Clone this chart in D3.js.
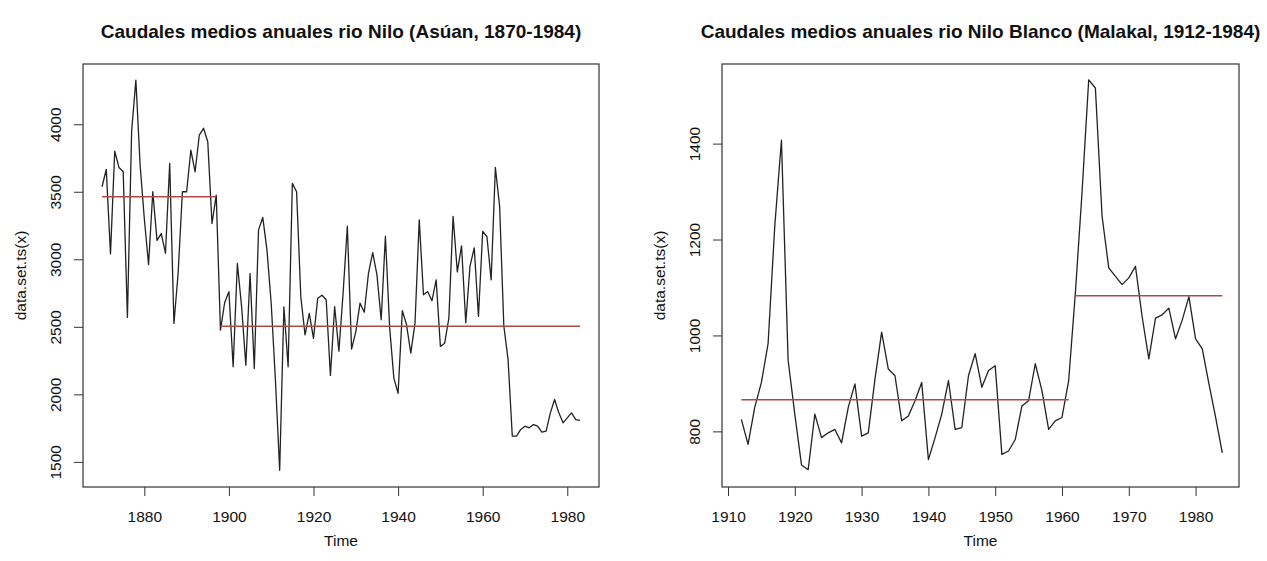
<!DOCTYPE html>
<html>
<head>
<meta charset="utf-8">
<script src="https://cdn.jsdelivr.net/npm/d3@7"></script>
<style>
    html, body { margin: 0; padding: 0; background: #fff; }
    svg text { font-family: "Liberation Sans", Arial, sans-serif; fill: #111; }
</style>
</head>
<body>
<svg id="chart" width="1267" height="561"></svg>
<script>
// Aswan annual mean flow, one value per year starting 1870
const nileStartYear = 1870;
const nileValues = [
    3537, 3665, 3040, 3800, 3680, 3650, 2570, 3950, 4327, 3700,
    3300, 2960, 3500, 3140, 3190, 3045, 3710, 2525, 2900, 3500,
    3500, 3808, 3648, 3920, 3970, 3870, 3265, 3475, 2475, 2680,
    2760, 2204, 2969, 2650, 2216, 2895, 2191, 3216, 3310, 3068,
    2673, 2105, 1438, 2648, 2204, 3562, 3500, 2722, 2440, 2599,
    2415, 2712, 2734, 2700, 2140, 2650, 2320, 2750, 3245, 2335,
    2465, 2675, 2608, 2898, 3050, 2885, 2552, 3171, 2496, 2120,
    2008, 2620, 2515, 2305, 2527, 3292, 2737, 2761, 2693, 2848,
    2355, 2378, 2564, 3318, 2907, 3100, 2530, 2949, 3085, 2577,
    3206, 3169, 2848, 3680, 3394, 2505, 2258, 1690, 1690, 1740,
    1764, 1752, 1776, 1764, 1720, 1727, 1863, 1962, 1863, 1789,
    1826, 1863, 1813, 1808
];
const nileSegStart = [1870, 1898];
const nileSegEnd = [1897, 1983];
const nileSegMean = [3463, 2505];
const nileXTicks = [1880, 1900, 1920, 1940, 1960, 1980];
const nileYTicks = [1500, 2000, 2500, 3000, 3500, 4000];

// White Nile at Malakal, one value per year starting 1912
const malakalStartYear = 1912;
const malakalValues = [
    825, 773, 850, 902, 983, 1228, 1407, 948, 836, 730,
    720, 836, 787, 797, 804, 776, 850, 899, 790, 797,
    909, 1007, 930, 916, 822, 832, 864, 902, 741, 787,
    836, 906, 804, 808, 916, 962, 892, 927, 937, 752,
    759, 783, 853, 864, 941, 885, 804, 822, 829, 906,
    1088, 1298, 1533, 1516, 1249, 1141, 1123, 1106, 1120, 1144,
    1039, 951, 1036, 1043, 1057, 993, 1032, 1081, 993, 972,
    899, 829, 755
];
const malakalSegStart = [1912, 1962];
const malakalSegEnd = [1961, 1984];
const malakalSegMean = [866, 1083];
const malakalXTicks = [1910, 1920, 1930, 1940, 1950, 1960, 1970, 1980];
const malakalYTicks = [800, 1000, 1200, 1400];

const svg = d3.select("#chart");

function drawPanel(p) {
    let g = svg.append("g");
    let top = 64, bottom = 487;

    let x = d3.scaleLinear().domain(p.xDomain).range([p.left, p.right]);
    let y = d3.scaleLinear().domain(p.yDomain).range([bottom, top]);

    let points = p.values.map((v, i) => ({year: p.startYear + i, value: v}));

    //Title
    g.append("text")
        .attr("x", (p.left + p.right) / 2)
        .attr("y", 38)
        .attr("text-anchor", "middle")
        .style("font-size", "19px")
        .style("font-weight", "bold")
        .text(p.title);

    //Bottom axis, R style: ticks only, the box gives the line
    let xAxis = g.append("g")
        .attr("transform", "translate(0," + bottom + ")")
        .call(d3.axisBottom(x).tickValues(p.xTicks).tickFormat(d3.format("d")).tickSize(9).tickPadding(15));
    xAxis.select(".domain").remove();
    xAxis.selectAll("line").attr("stroke", "#333");
    xAxis.selectAll("text").style("font-size", "15.5px").attr("fill", "#111");

    //Left axis with rotated labels
    let yAxis = g.append("g")
        .attr("transform", "translate(" + p.left + ",0)")
        .call(d3.axisLeft(y).tickValues(p.yTicks).tickFormat(d3.format("d")).tickSize(9));
    yAxis.select(".domain").remove();
    yAxis.selectAll("line").attr("stroke", "#333");
    yAxis.selectAll("text")
        .attr("x", null).attr("dy", null)
        .attr("text-anchor", "middle")
        .attr("transform", "translate(-22,0) rotate(-90)")
        .style("font-size", "15.5px")
        .attr("fill", "#111");

    //Axis titles
    g.append("text")
        .attr("x", (p.left + p.right) / 2)
        .attr("y", 546)
        .attr("text-anchor", "middle")
        .style("font-size", "15.5px")
        .text("Time");

    g.append("text")
        .attr("transform", "translate(" + (p.left - 57) + "," + ((top + bottom) / 2) + ") rotate(-90)")
        .attr("text-anchor", "middle")
        .style("font-size", "15.5px")
        .text("data.set.ts(x)");

    //Series
    let line = d3.line().x(d => x(d.year)).y(d => y(d.value));
    g.append("path")
        .datum(points)
        .attr("d", line)
        .attr("fill", "none")
        .attr("stroke", "#222")
        .attr("stroke-width", 1.3)
        .attr("stroke-linejoin", "round");

    //Mean of each regime
    p.segMean.forEach((m, i) => {
        g.append("line")
            .attr("x1", x(p.segStart[i]))
            .attr("x2", x(p.segEnd[i]))
            .attr("y1", y(m))
            .attr("y2", y(m))
            .attr("stroke", "#b04848")
            .attr("stroke-width", 1.5);
    });

    //Frame
    g.append("rect")
        .attr("x", p.left)
        .attr("y", top)
        .attr("width", p.right - p.left)
        .attr("height", bottom - top)
        .attr("fill", "none")
        .attr("stroke", "#333")
        .attr("stroke-width", 1.2);
}

drawPanel({
    title: "Caudales medios anuales rio Nilo (Asúan, 1870-1984)",
    left: 83, right: 599,
    xDomain: [1865.5, 1987.5], yDomain: [1314, 4446],
    startYear: nileStartYear, values: nileValues,
    segStart: nileSegStart, segEnd: nileSegEnd, segMean: nileSegMean,
    xTicks: nileXTicks, yTicks: nileYTicks
});

drawPanel({
    title: "Caudales medios anuales rio Nilo Blanco (Malakal, 1912-1984)",
    left: 722, right: 1239,
    xDomain: [1909.1, 1986.5], yDomain: [684, 1566],
    startYear: malakalStartYear, values: malakalValues,
    segStart: malakalSegStart, segEnd: malakalSegEnd, segMean: malakalSegMean,
    xTicks: malakalXTicks, yTicks: malakalYTicks
});
</script>
</body>
</html>
